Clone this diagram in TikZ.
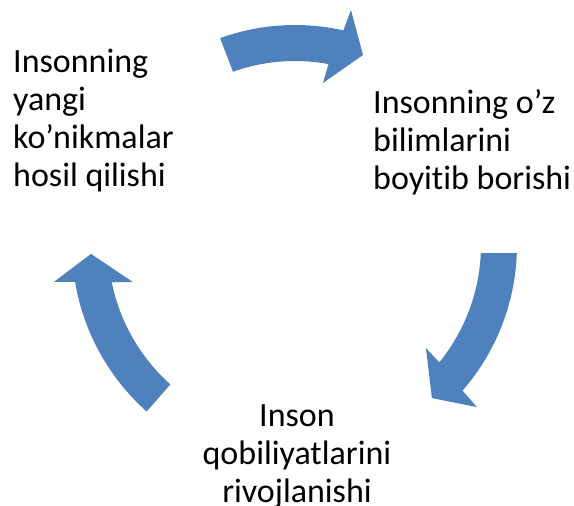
\documentclass[tikz,border=0pt]{standalone}
\usepackage{fontspec}
\setmainfont{Carlito}[Ligatures=NoCommon]
\usepackage{xcolor}
\usepackage{tikz}
\definecolor{arrowblue}{RGB}{79,129,189}
\tikzset{
	stage/.style={inner sep=0pt,font=\fontsize{34}{38}\selectfont},
	cycle arrow/.style={fill=arrowblue,draw=none}
}

\begin{document}
\begin{tikzpicture}[x=1pt,y=1pt]
            \useasboundingbox (-295,-261) rectangle (279,245);
            % the three stages (anchored at their last line)
            \node [stage,align=left,anchor=base west] (1) at (-282,58) {Insonning\\yangi\\ko’nikmalar\\hosil qilishi};
            \node [stage,align=left,anchor=base west] (2) at (78,55) {Insonning o’z\\bilimlarini\\boyitib borishi};
            \node [stage,align=center,anchor=base] (3) at (2,-258) {Inson\\qobiliyatlarini\\rivojlanishi};
            % curved arrows, clockwise
            \fill [cycle arrow] (109.9:220) arc[start angle=109.9,end angle=77.3,radius=220]
              -- (76.6:241.6) -- (70.3:201.8) -- (80.2:164.4) -- (79.5:184)
              arc[start angle=79.5,end angle=109.7,radius=184] -- cycle;
            \fill [cycle arrow] (-2.1:222) arc[start angle=-2.1,end angle=-41.0,radius=222]
              -- (-41.7:243.7) -- (-48.2:205.4) -- (-38.2:166.6) -- (-39.1:186)
              arc[start angle=-39.1,end angle=-2.5,radius=186] -- cycle;
            \fill [cycle arrow] (228.3:223) arc[start angle=228.3,end angle=189.5,radius=223]
              -- (188.7:243.8) -- (182.5:204.2) -- (192.9:166.2) -- (191.5:187)
              arc[start angle=191.5,end angle=228.2,radius=187] -- cycle;
          \end{tikzpicture}
\end{document}
